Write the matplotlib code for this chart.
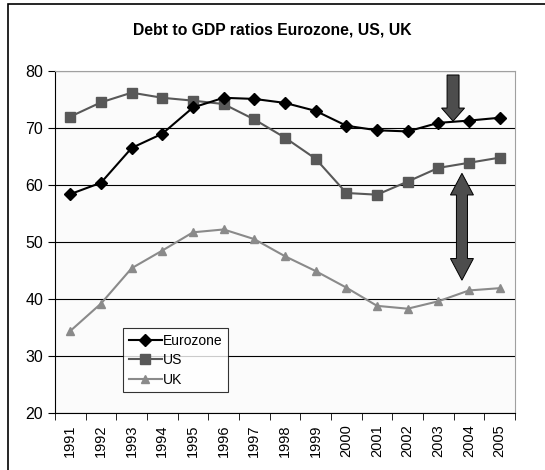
import matplotlib.pyplot as plt
import matplotlib.patches as patches

years = [str(y) for y in range(1991, 2006)]
eurozone = [58.4, 60.4, 66.5, 69.0, 73.6, 75.3, 75.1, 74.4, 73.0, 70.4, 69.6, 69.4, 70.9, 71.3, 71.8]
us = [72.0, 74.5, 76.2, 75.3, 74.8, 74.2, 71.5, 68.3, 64.6, 58.6, 58.3, 60.6, 63.0, 63.9, 64.8]
uk = [34.4, 39.2, 45.4, 48.5, 51.7, 52.2, 50.5, 47.5, 44.9, 42.0, 38.8, 38.3, 39.6, 41.5, 41.9]

plt.rcParams['font.family'] = ['Liberation Sans', 'DejaVu Sans']

fig = plt.figure(figsize=(5.45, 4.70), dpi=100)
ax = fig.add_axes([55/545, 57/470, 460/545, 342/470])
ax.set_facecolor('#fbfbfb')

x = list(range(len(years)))
ax.plot(x, eurozone, color='black', lw=1.5, marker='D', ms=6, label='Eurozone', zorder=4)
ax.plot(x, us, color='#585858', lw=1.5, marker='s', ms=7, label='US', zorder=3)
ax.plot(x, uk, color='#8a8a8a', lw=1.5, marker='^', ms=6, label='UK', zorder=3)

ax.set_xlim(-0.5, len(years) - 0.5)
ax.set_ylim(20, 80)
ax.set_yticks(range(20, 81, 10))
ax.yaxis.grid(True, color='black', lw=0.8)
ax.set_axisbelow(True)
ax.set_xticks(x)
ax.set_xticklabels(years, rotation=90, fontsize=10.5)
ax.set_xticks([i - 0.5 for i in range(len(years) + 1)], minor=True)
ax.tick_params(axis='x', which='major', length=0, pad=8)
ax.tick_params(axis='x', which='minor', length=5, color='black')
ax.tick_params(axis='y', length=5, labelsize=11.5, color='black')

for s in ['top', 'right']:
    ax.spines[s].set_color('#a0a0a0')
ax.spines['left'].set_color('black')
ax.spines['bottom'].set_color('black')

fig.text(0.5, 1 - 30/470, 'Debt to GDP ratios Eurozone, US, UK', ha='center', va='center',
         fontsize=11.3, fontweight='bold')

leg = ax.legend(loc='upper left', bbox_to_anchor=(68/460, 1 - 257/342), fontsize=10,
                frameon=True, fancybox=False, edgecolor='black', borderpad=0.4,
                labelspacing=0.4, handlelength=2.4, handletextpad=0.1, borderaxespad=0)
leg.get_frame().set_linewidth(0.8)

# down arrow
cx, sw, hw = 12.48, 0.39 / 2, 0.75 / 2
down = [(cx - sw, 79.3), (cx + sw, 79.3), (cx + sw, 73.5), (cx + hw, 73.5), (cx, 71.2),
        (cx - hw, 73.5), (cx - sw, 73.5)]
ax.add_patch(patches.Polygon(down, closed=True, facecolor='#4d4d4d', edgecolor='black',
                             lw=0.7, zorder=5))

# double arrow
cx, sw, hw = 12.77, 0.36 / 2, 0.75 / 2
top, top_base, bot_base, bot = 62.05, 58.25, 47.1, 43.3
double = [(cx, top), (cx + hw, top_base), (cx + sw, top_base), (cx + sw, bot_base),
          (cx + hw, bot_base), (cx, bot), (cx - hw, bot_base), (cx - sw, bot_base),
          (cx - sw, top_base), (cx - hw, top_base)]
ax.add_patch(patches.Polygon(double, closed=True, facecolor='#4d4d4d', edgecolor='black',
                             lw=0.7, zorder=5))

fig.add_artist(patches.Rectangle((8/545, -0.1), 1.2, 1 - 4/470 + 0.1, transform=fig.transFigure,
                                 fill=False, edgecolor='black', lw=1.2))

fig.savefig('out.png', dpi=100)
